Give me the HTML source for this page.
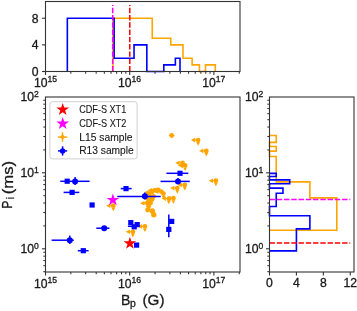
<!DOCTYPE html><html><head><meta charset="utf-8"><style>
html,body{margin:0;padding:0;background:#fff;}
svg{display:block;font-family:'Liberation Sans',sans-serif;will-change:transform;filter:blur(0.3px);} text{stroke:#1a1a1a;stroke-width:0.3px;}
</style></head><body>
<svg width="357" height="311" viewBox="0 0 357 311">
<rect width="357" height="311" fill="#fff"/>
<path d="M112.98,71.50 L112.98,18.22 L152.26,18.22 L152.26,38.20 L170.75,38.20 L170.75,44.86 L182.98,44.86 L182.98,58.18 L192.12,58.18 L192.12,64.84 L199.44,64.84 L199.44,71.50 L205.52,71.50 L205.52,64.84 L210.74,64.84 L210.74,64.84 L215.31,64.84 L215.31,71.50" fill="none" stroke="#ffa500" stroke-width="1.6" stroke-linejoin="miter"/>
<path d="M67.34,71.50 L67.34,18.22 L114.15,18.22 L114.15,58.18 L134.03,58.18 L134.03,44.86 L146.83,44.86 L146.83,71.50 L156.30,71.50 L156.30,71.50 L163.81,71.50 L163.81,64.84 L170.04,64.84 L170.04,64.84 L175.36,64.84 L175.36,58.18 L180.00,58.18 L180.00,71.50" fill="none" stroke="#0000ff" stroke-width="1.6" stroke-linejoin="miter"/>
<line x1="112.7" y1="71.3" x2="112.7" y2="4.90" stroke="#ff00ff" stroke-width="1.5" stroke-dasharray="5.4,1.86"/>
<line x1="129.8" y1="71.3" x2="129.8" y2="4.90" stroke="#ff0000" stroke-width="1.5" stroke-dasharray="5.4,1.86"/>
<rect x="45.5" y="1.5" width="194.5" height="70.0" fill="none" stroke="#333333" stroke-width="1.1"/>
<line x1="45.50" y1="71.5" x2="45.50" y2="75.0" stroke="#333333" stroke-width="1.1"/><line x1="70.85" y1="71.5" x2="70.85" y2="73.7" stroke="#333333" stroke-width="1.05"/><line x1="85.67" y1="71.5" x2="85.67" y2="73.7" stroke="#333333" stroke-width="1.05"/><line x1="96.19" y1="71.5" x2="96.19" y2="73.7" stroke="#333333" stroke-width="1.05"/><line x1="104.35" y1="71.5" x2="104.35" y2="73.7" stroke="#333333" stroke-width="1.05"/><line x1="111.02" y1="71.5" x2="111.02" y2="73.7" stroke="#333333" stroke-width="1.05"/><line x1="116.66" y1="71.5" x2="116.66" y2="73.7" stroke="#333333" stroke-width="1.05"/><line x1="121.54" y1="71.5" x2="121.54" y2="73.7" stroke="#333333" stroke-width="1.05"/><line x1="125.85" y1="71.5" x2="125.85" y2="73.7" stroke="#333333" stroke-width="1.05"/><line x1="129.70" y1="71.5" x2="129.70" y2="75.0" stroke="#333333" stroke-width="1.1"/><line x1="155.05" y1="71.5" x2="155.05" y2="73.7" stroke="#333333" stroke-width="1.05"/><line x1="169.87" y1="71.5" x2="169.87" y2="73.7" stroke="#333333" stroke-width="1.05"/><line x1="180.39" y1="71.5" x2="180.39" y2="73.7" stroke="#333333" stroke-width="1.05"/><line x1="188.55" y1="71.5" x2="188.55" y2="73.7" stroke="#333333" stroke-width="1.05"/><line x1="195.22" y1="71.5" x2="195.22" y2="73.7" stroke="#333333" stroke-width="1.05"/><line x1="200.86" y1="71.5" x2="200.86" y2="73.7" stroke="#333333" stroke-width="1.05"/><line x1="205.74" y1="71.5" x2="205.74" y2="73.7" stroke="#333333" stroke-width="1.05"/><line x1="210.05" y1="71.5" x2="210.05" y2="73.7" stroke="#333333" stroke-width="1.05"/><line x1="213.90" y1="71.5" x2="213.90" y2="75.0" stroke="#333333" stroke-width="1.1"/><line x1="239.25" y1="71.5" x2="239.25" y2="73.7" stroke="#333333" stroke-width="1.05"/>
<line x1="42.0" y1="71.50" x2="45.5" y2="71.50" stroke="#333333" stroke-width="1.1"/>
<text x="38.6" y="75.80" font-size="12.2" text-anchor="end" fill="#1a1a1a" >0</text>
<line x1="42.0" y1="44.86" x2="45.5" y2="44.86" stroke="#333333" stroke-width="1.1"/>
<text x="38.6" y="49.16" font-size="12.2" text-anchor="end" fill="#1a1a1a" >4</text>
<line x1="42.0" y1="18.22" x2="45.5" y2="18.22" stroke="#333333" stroke-width="1.1"/>
<text x="38.6" y="22.52" font-size="12.2" text-anchor="end" fill="#1a1a1a" >8</text>
<text x="33.90" y="86.6" font-size="12.2" text-anchor="start" fill="#1a1a1a" >10</text>
<text x="47.40" y="82.0" font-size="8.6" text-anchor="start" fill="#1a1a1a" >15</text>
<text x="118.10" y="86.6" font-size="12.2" text-anchor="start" fill="#1a1a1a" >10</text>
<text x="131.60" y="82.0" font-size="8.6" text-anchor="start" fill="#1a1a1a" >16</text>
<text x="202.30" y="86.6" font-size="12.2" text-anchor="start" fill="#1a1a1a" >10</text>
<text x="215.80" y="82.0" font-size="8.6" text-anchor="start" fill="#1a1a1a" >17</text>
<path d="M269.50,230.31 L336.80,230.31 L336.80,197.92 L309.88,197.92 L309.88,181.90 L276.23,181.90 L276.23,171.16 L276.23,171.16 L276.23,163.06 L276.23,163.06 L276.23,156.57 L269.50,156.57 L269.50,151.15 L276.23,151.15 L276.23,146.49 L269.50,146.49 L269.50,142.41 L276.23,142.41 L276.23,138.78 L276.23,138.78 L276.23,135.51 L269.50,135.51" fill="none" stroke="#ffa500" stroke-width="1.6"/>
<path d="M269.50,250.84 L296.42,250.84 L296.42,228.85 L309.88,228.85 L309.88,215.77 L269.50,215.77 L269.50,206.43 L276.23,206.43 L276.23,199.16 L276.23,199.16 L276.23,193.20 L282.96,193.20 L282.96,188.16 L269.50,188.16 L269.50,183.78 L289.69,183.78 L289.69,179.92 L269.50,179.92 L269.50,176.46 L276.23,176.46 L276.23,173.33 L269.50,173.33" fill="none" stroke="#0000ff" stroke-width="1.6"/>
<line x1="269.5" y1="199.6" x2="350.26" y2="199.6" stroke="#ff00ff" stroke-width="1.5" stroke-dasharray="5.4,1.86"/>
<line x1="269.5" y1="243.0" x2="350.26" y2="243.0" stroke="#ff0000" stroke-width="1.5" stroke-dasharray="5.4,1.86"/>
<rect x="269.5" y="97" width="84.5" height="175" fill="none" stroke="#333333" stroke-width="1.1"/>
<line x1="267.3" y1="271.68" x2="269.5" y2="271.68" stroke="#333333" stroke-width="1.05"/><line x1="267.3" y1="265.66" x2="269.5" y2="265.66" stroke="#333333" stroke-width="1.05"/><line x1="267.3" y1="260.57" x2="269.5" y2="260.57" stroke="#333333" stroke-width="1.05"/><line x1="267.3" y1="256.17" x2="269.5" y2="256.17" stroke="#333333" stroke-width="1.05"/><line x1="267.3" y1="252.28" x2="269.5" y2="252.28" stroke="#333333" stroke-width="1.05"/><line x1="266.0" y1="248.80" x2="269.5" y2="248.80" stroke="#333333" stroke-width="1.1"/><line x1="267.3" y1="225.92" x2="269.5" y2="225.92" stroke="#333333" stroke-width="1.05"/><line x1="267.3" y1="212.54" x2="269.5" y2="212.54" stroke="#333333" stroke-width="1.05"/><line x1="267.3" y1="203.04" x2="269.5" y2="203.04" stroke="#333333" stroke-width="1.05"/><line x1="267.3" y1="195.68" x2="269.5" y2="195.68" stroke="#333333" stroke-width="1.05"/><line x1="267.3" y1="189.66" x2="269.5" y2="189.66" stroke="#333333" stroke-width="1.05"/><line x1="267.3" y1="184.57" x2="269.5" y2="184.57" stroke="#333333" stroke-width="1.05"/><line x1="267.3" y1="180.17" x2="269.5" y2="180.17" stroke="#333333" stroke-width="1.05"/><line x1="267.3" y1="176.28" x2="269.5" y2="176.28" stroke="#333333" stroke-width="1.05"/><line x1="266.0" y1="172.80" x2="269.5" y2="172.80" stroke="#333333" stroke-width="1.1"/><line x1="267.3" y1="149.92" x2="269.5" y2="149.92" stroke="#333333" stroke-width="1.05"/><line x1="267.3" y1="136.54" x2="269.5" y2="136.54" stroke="#333333" stroke-width="1.05"/><line x1="267.3" y1="127.04" x2="269.5" y2="127.04" stroke="#333333" stroke-width="1.05"/><line x1="267.3" y1="119.68" x2="269.5" y2="119.68" stroke="#333333" stroke-width="1.05"/><line x1="267.3" y1="113.66" x2="269.5" y2="113.66" stroke="#333333" stroke-width="1.05"/><line x1="267.3" y1="108.57" x2="269.5" y2="108.57" stroke="#333333" stroke-width="1.05"/><line x1="267.3" y1="104.17" x2="269.5" y2="104.17" stroke="#333333" stroke-width="1.05"/><line x1="267.3" y1="100.28" x2="269.5" y2="100.28" stroke="#333333" stroke-width="1.05"/>
<line x1="269.50" y1="272" x2="269.50" y2="275.5" stroke="#333333" stroke-width="1.1"/>
<text x="269.50" y="287.4" font-size="12.2" text-anchor="middle" fill="#1a1a1a" >0</text>
<line x1="296.42" y1="272" x2="296.42" y2="275.5" stroke="#333333" stroke-width="1.1"/>
<text x="296.42" y="287.4" font-size="12.2" text-anchor="middle" fill="#1a1a1a" >4</text>
<line x1="323.34" y1="272" x2="323.34" y2="275.5" stroke="#333333" stroke-width="1.1"/>
<text x="323.34" y="287.4" font-size="12.2" text-anchor="middle" fill="#1a1a1a" >8</text>
<line x1="350.26" y1="272" x2="350.26" y2="275.5" stroke="#333333" stroke-width="1.1"/>
<text x="350.26" y="287.4" font-size="12.2" text-anchor="middle" fill="#1a1a1a" >12</text>
<text x="245.10" y="101.10000000000001" font-size="12.2" text-anchor="start" fill="#1a1a1a" >10</text>
<text x="258.60" y="96.50000000000001" font-size="8.6" text-anchor="start" fill="#1a1a1a" >2</text>
<text x="245.10" y="177.10000000000002" font-size="12.2" text-anchor="start" fill="#1a1a1a" >10</text>
<text x="258.60" y="172.5" font-size="8.6" text-anchor="start" fill="#1a1a1a" >1</text>
<text x="245.10" y="253.10000000000002" font-size="12.2" text-anchor="start" fill="#1a1a1a" >10</text>
<text x="258.60" y="248.5" font-size="8.6" text-anchor="start" fill="#1a1a1a" >0</text>
<rect x="45.5" y="97" width="194.5" height="175" fill="none" stroke="#333333" stroke-width="1.1"/>
<line x1="45.50" y1="272" x2="45.50" y2="275.5" stroke="#333333" stroke-width="1.1"/><line x1="70.85" y1="272" x2="70.85" y2="274.2" stroke="#333333" stroke-width="1.05"/><line x1="85.67" y1="272" x2="85.67" y2="274.2" stroke="#333333" stroke-width="1.05"/><line x1="96.19" y1="272" x2="96.19" y2="274.2" stroke="#333333" stroke-width="1.05"/><line x1="104.35" y1="272" x2="104.35" y2="274.2" stroke="#333333" stroke-width="1.05"/><line x1="111.02" y1="272" x2="111.02" y2="274.2" stroke="#333333" stroke-width="1.05"/><line x1="116.66" y1="272" x2="116.66" y2="274.2" stroke="#333333" stroke-width="1.05"/><line x1="121.54" y1="272" x2="121.54" y2="274.2" stroke="#333333" stroke-width="1.05"/><line x1="125.85" y1="272" x2="125.85" y2="274.2" stroke="#333333" stroke-width="1.05"/><line x1="129.70" y1="272" x2="129.70" y2="275.5" stroke="#333333" stroke-width="1.1"/><line x1="155.05" y1="272" x2="155.05" y2="274.2" stroke="#333333" stroke-width="1.05"/><line x1="169.87" y1="272" x2="169.87" y2="274.2" stroke="#333333" stroke-width="1.05"/><line x1="180.39" y1="272" x2="180.39" y2="274.2" stroke="#333333" stroke-width="1.05"/><line x1="188.55" y1="272" x2="188.55" y2="274.2" stroke="#333333" stroke-width="1.05"/><line x1="195.22" y1="272" x2="195.22" y2="274.2" stroke="#333333" stroke-width="1.05"/><line x1="200.86" y1="272" x2="200.86" y2="274.2" stroke="#333333" stroke-width="1.05"/><line x1="205.74" y1="272" x2="205.74" y2="274.2" stroke="#333333" stroke-width="1.05"/><line x1="210.05" y1="272" x2="210.05" y2="274.2" stroke="#333333" stroke-width="1.05"/><line x1="213.90" y1="272" x2="213.90" y2="275.5" stroke="#333333" stroke-width="1.1"/><line x1="239.25" y1="272" x2="239.25" y2="274.2" stroke="#333333" stroke-width="1.05"/>
<line x1="43.3" y1="271.68" x2="45.5" y2="271.68" stroke="#333333" stroke-width="1.05"/><line x1="43.3" y1="265.66" x2="45.5" y2="265.66" stroke="#333333" stroke-width="1.05"/><line x1="43.3" y1="260.57" x2="45.5" y2="260.57" stroke="#333333" stroke-width="1.05"/><line x1="43.3" y1="256.17" x2="45.5" y2="256.17" stroke="#333333" stroke-width="1.05"/><line x1="43.3" y1="252.28" x2="45.5" y2="252.28" stroke="#333333" stroke-width="1.05"/><line x1="42.0" y1="248.80" x2="45.5" y2="248.80" stroke="#333333" stroke-width="1.1"/><line x1="43.3" y1="225.92" x2="45.5" y2="225.92" stroke="#333333" stroke-width="1.05"/><line x1="43.3" y1="212.54" x2="45.5" y2="212.54" stroke="#333333" stroke-width="1.05"/><line x1="43.3" y1="203.04" x2="45.5" y2="203.04" stroke="#333333" stroke-width="1.05"/><line x1="43.3" y1="195.68" x2="45.5" y2="195.68" stroke="#333333" stroke-width="1.05"/><line x1="43.3" y1="189.66" x2="45.5" y2="189.66" stroke="#333333" stroke-width="1.05"/><line x1="43.3" y1="184.57" x2="45.5" y2="184.57" stroke="#333333" stroke-width="1.05"/><line x1="43.3" y1="180.17" x2="45.5" y2="180.17" stroke="#333333" stroke-width="1.05"/><line x1="43.3" y1="176.28" x2="45.5" y2="176.28" stroke="#333333" stroke-width="1.05"/><line x1="42.0" y1="172.80" x2="45.5" y2="172.80" stroke="#333333" stroke-width="1.1"/><line x1="43.3" y1="149.92" x2="45.5" y2="149.92" stroke="#333333" stroke-width="1.05"/><line x1="43.3" y1="136.54" x2="45.5" y2="136.54" stroke="#333333" stroke-width="1.05"/><line x1="43.3" y1="127.04" x2="45.5" y2="127.04" stroke="#333333" stroke-width="1.05"/><line x1="43.3" y1="119.68" x2="45.5" y2="119.68" stroke="#333333" stroke-width="1.05"/><line x1="43.3" y1="113.66" x2="45.5" y2="113.66" stroke="#333333" stroke-width="1.05"/><line x1="43.3" y1="108.57" x2="45.5" y2="108.57" stroke="#333333" stroke-width="1.05"/><line x1="43.3" y1="104.17" x2="45.5" y2="104.17" stroke="#333333" stroke-width="1.05"/><line x1="43.3" y1="100.28" x2="45.5" y2="100.28" stroke="#333333" stroke-width="1.05"/>
<text x="33.90" y="287.6" font-size="12.2" text-anchor="start" fill="#1a1a1a" >10</text>
<text x="47.40" y="283.0" font-size="8.6" text-anchor="start" fill="#1a1a1a" >15</text>
<text x="118.10" y="287.6" font-size="12.2" text-anchor="start" fill="#1a1a1a" >10</text>
<text x="131.60" y="283.0" font-size="8.6" text-anchor="start" fill="#1a1a1a" >16</text>
<text x="202.30" y="287.6" font-size="12.2" text-anchor="start" fill="#1a1a1a" >10</text>
<text x="215.80" y="283.0" font-size="8.6" text-anchor="start" fill="#1a1a1a" >17</text>
<text x="20.50" y="101.10000000000001" font-size="12.2" text-anchor="start" fill="#1a1a1a" >10</text>
<text x="34.00" y="96.50000000000001" font-size="8.6" text-anchor="start" fill="#1a1a1a" >2</text>
<text x="20.50" y="177.10000000000002" font-size="12.2" text-anchor="start" fill="#1a1a1a" >10</text>
<text x="34.00" y="172.5" font-size="8.6" text-anchor="start" fill="#1a1a1a" >1</text>
<text x="20.50" y="253.10000000000002" font-size="12.2" text-anchor="start" fill="#1a1a1a" >10</text>
<text x="34.00" y="248.5" font-size="8.6" text-anchor="start" fill="#1a1a1a" >0</text>
<circle cx="171.7" cy="135.5" r="2.4" fill="#ffa500"/>
<line x1="169" y1="135.5" x2="174.5" y2="135.5" stroke="#ffa500" stroke-width="1.2"/>
<circle cx="198.1" cy="140.1" r="2.4" fill="#ffa500"/><path d="M190.90,140.10 L195.20,137.80 L195.20,142.40 Z" fill="#ffa500"/><line x1="194.60" y1="140.1" x2="198.1" y2="140.1" stroke="#ffa500" stroke-width="1.0"/><path d="M198.10,145.70 L196.20,142.10 L200.00,142.10 Z" fill="#ffa500"/>
<circle cx="206.3" cy="150.9" r="2.4" fill="#ffa500"/><path d="M199.10,150.90 L203.40,148.60 L203.40,153.20 Z" fill="#ffa500"/><line x1="202.80" y1="150.9" x2="206.3" y2="150.9" stroke="#ffa500" stroke-width="1.0"/><path d="M206.30,156.50 L204.40,152.90 L208.20,152.90 Z" fill="#ffa500"/>
<circle cx="182.5" cy="162.9" r="2.4" fill="#ffa500"/><path d="M175.30,162.90 L179.60,160.60 L179.60,165.20 Z" fill="#ffa500"/><line x1="179.00" y1="162.9" x2="182.5" y2="162.9" stroke="#ffa500" stroke-width="1.0"/><path d="M182.50,168.50 L180.60,164.90 L184.40,164.90 Z" fill="#ffa500"/>
<circle cx="185.1" cy="165.4" r="2.4" fill="#ffa500"/><path d="M177.90,165.40 L182.20,163.10 L182.20,167.70 Z" fill="#ffa500"/><line x1="181.60" y1="165.4" x2="185.1" y2="165.4" stroke="#ffa500" stroke-width="1.0"/><path d="M185.10,171.00 L183.20,167.40 L187.00,167.40 Z" fill="#ffa500"/>
<circle cx="215.9" cy="180.7" r="2.4" fill="#ffa500"/><path d="M208.70,180.70 L213.00,178.40 L213.00,183.00 Z" fill="#ffa500"/><line x1="212.40" y1="180.7" x2="215.9" y2="180.7" stroke="#ffa500" stroke-width="1.0"/><path d="M215.90,186.30 L214.00,182.70 L217.80,182.70 Z" fill="#ffa500"/>
<circle cx="177.3" cy="188.1" r="2.4" fill="#ffa500"/><path d="M170.10,188.10 L174.40,185.80 L174.40,190.40 Z" fill="#ffa500"/><line x1="173.80" y1="188.1" x2="177.3" y2="188.1" stroke="#ffa500" stroke-width="1.0"/><path d="M177.30,193.70 L175.40,190.10 L179.20,190.10 Z" fill="#ffa500"/>
<circle cx="184.8" cy="185.0" r="2.4" fill="#ffa500"/><path d="M177.60,185.00 L181.90,182.70 L181.90,187.30 Z" fill="#ffa500"/><line x1="181.30" y1="185.0" x2="184.8" y2="185.0" stroke="#ffa500" stroke-width="1.0"/><path d="M184.80,190.60 L182.90,187.00 L186.70,187.00 Z" fill="#ffa500"/>
<circle cx="161.3" cy="191.6" r="2.4" fill="#ffa500"/><path d="M154.10,191.60 L158.40,189.30 L158.40,193.90 Z" fill="#ffa500"/><line x1="157.80" y1="191.6" x2="161.3" y2="191.6" stroke="#ffa500" stroke-width="1.0"/>
<circle cx="158.3" cy="189.9" r="2.4" fill="#ffa500"/><path d="M151.10,189.90 L155.40,187.60 L155.40,192.20 Z" fill="#ffa500"/><line x1="154.80" y1="189.9" x2="158.3" y2="189.9" stroke="#ffa500" stroke-width="1.0"/>
<circle cx="155.0" cy="190.3" r="2.4" fill="#ffa500"/><path d="M147.80,190.30 L152.10,188.00 L152.10,192.60 Z" fill="#ffa500"/><line x1="151.50" y1="190.3" x2="155.0" y2="190.3" stroke="#ffa500" stroke-width="1.0"/>
<circle cx="151.6" cy="192.2" r="2.4" fill="#ffa500"/><path d="M144.40,192.20 L148.70,189.90 L148.70,194.50 Z" fill="#ffa500"/><line x1="148.10" y1="192.2" x2="151.6" y2="192.2" stroke="#ffa500" stroke-width="1.0"/>
<circle cx="148.4" cy="194.4" r="2.4" fill="#ffa500"/>
<circle cx="163.4" cy="193.6" r="2.4" fill="#ffa500"/><path d="M163.40,199.20 L161.50,195.60 L165.30,195.60 Z" fill="#ffa500"/>
<circle cx="148.6" cy="200.0" r="2.4" fill="#ffa500"/>
<circle cx="147.3" cy="203.2" r="2.4" fill="#ffa500"/><path d="M140.10,203.20 L144.40,200.90 L144.40,205.50 Z" fill="#ffa500"/><line x1="143.80" y1="203.2" x2="147.3" y2="203.2" stroke="#ffa500" stroke-width="1.0"/>
<circle cx="148.6" cy="206.3" r="2.4" fill="#ffa500"/><path d="M148.60,211.90 L146.70,208.30 L150.50,208.30 Z" fill="#ffa500"/>
<circle cx="147.6" cy="210.0" r="2.4" fill="#ffa500"/>
<circle cx="152.2" cy="199.3" r="2.4" fill="#ffa500"/><path d="M145.00,199.30 L149.30,197.00 L149.30,201.60 Z" fill="#ffa500"/><line x1="148.70" y1="199.3" x2="152.2" y2="199.3" stroke="#ffa500" stroke-width="1.0"/>
<circle cx="153.6" cy="196.3" r="2.4" fill="#ffa500"/><path d="M146.40,196.30 L150.70,194.00 L150.70,198.60 Z" fill="#ffa500"/><line x1="150.10" y1="196.3" x2="153.6" y2="196.3" stroke="#ffa500" stroke-width="1.0"/>
<circle cx="150.6" cy="203.0" r="2.4" fill="#ffa500"/><path d="M143.40,203.00 L147.70,200.70 L147.70,205.30 Z" fill="#ffa500"/><line x1="147.10" y1="203.0" x2="150.6" y2="203.0" stroke="#ffa500" stroke-width="1.0"/>
<circle cx="150.2" cy="197.0" r="2.4" fill="#ffa500"/><path d="M143.00,197.00 L147.30,194.70 L147.30,199.30 Z" fill="#ffa500"/><line x1="146.70" y1="197.0" x2="150.2" y2="197.0" stroke="#ffa500" stroke-width="1.0"/>
<circle cx="168.8" cy="198.6" r="2.4" fill="#ffa500"/><path d="M161.60,198.60 L165.90,196.30 L165.90,200.90 Z" fill="#ffa500"/><line x1="165.30" y1="198.6" x2="168.8" y2="198.6" stroke="#ffa500" stroke-width="1.0"/><path d="M168.80,204.20 L166.90,200.60 L170.70,200.60 Z" fill="#ffa500"/>
<circle cx="173.4" cy="198.2" r="2.4" fill="#ffa500"/><path d="M166.20,198.20 L170.50,195.90 L170.50,200.50 Z" fill="#ffa500"/><line x1="169.90" y1="198.2" x2="173.4" y2="198.2" stroke="#ffa500" stroke-width="1.0"/><path d="M173.40,203.80 L171.50,200.20 L175.30,200.20 Z" fill="#ffa500"/>
<circle cx="113.3" cy="205.7" r="2.4" fill="#ffa500"/><path d="M106.10,205.70 L110.40,203.40 L110.40,208.00 Z" fill="#ffa500"/><line x1="109.80" y1="205.7" x2="113.3" y2="205.7" stroke="#ffa500" stroke-width="1.0"/><path d="M113.30,211.30 L111.40,207.70 L115.20,207.70 Z" fill="#ffa500"/>
<circle cx="144.9" cy="226.4" r="2.4" fill="#ffa500"/><path d="M137.70,226.40 L142.00,224.10 L142.00,228.70 Z" fill="#ffa500"/><line x1="141.40" y1="226.4" x2="144.9" y2="226.4" stroke="#ffa500" stroke-width="1.0"/><path d="M144.90,232.00 L143.00,228.40 L146.80,228.40 Z" fill="#ffa500"/>
<circle cx="132.9" cy="231.8" r="2.4" fill="#ffa500"/><path d="M125.70,231.80 L130.00,229.50 L130.00,234.10 Z" fill="#ffa500"/><line x1="129.40" y1="231.8" x2="132.9" y2="231.8" stroke="#ffa500" stroke-width="1.0"/><path d="M132.90,237.40 L131.00,233.80 L134.80,233.80 Z" fill="#ffa500"/>
<circle cx="152.3" cy="211.0" r="2.7" fill="#ffa500"/>
<circle cx="153.8" cy="214.8" r="2.7" fill="#ffa500"/>
<line x1="60.3" y1="181.3" x2="89.6" y2="181.3" stroke="#0000ff" stroke-width="1.5"/>
<line x1="63.6" y1="192.4" x2="79.3" y2="192.4" stroke="#0000ff" stroke-width="1.5"/>
<line x1="51.6" y1="240.2" x2="73.8" y2="240.2" stroke="#0000ff" stroke-width="1.5"/>
<line x1="77.8" y1="250.7" x2="88.6" y2="250.7" stroke="#0000ff" stroke-width="1.5"/>
<line x1="96.3" y1="228.2" x2="109.5" y2="228.2" stroke="#0000ff" stroke-width="1.5"/>
<line x1="120.7" y1="188.6" x2="131.7" y2="188.6" stroke="#0000ff" stroke-width="1.5"/>
<line x1="117.3" y1="196.5" x2="160.7" y2="196.5" stroke="#0000ff" stroke-width="1.5"/>
<line x1="127.9" y1="226.3" x2="139.6" y2="226.3" stroke="#0000ff" stroke-width="1.5"/>
<line x1="166.4" y1="173.3" x2="188.3" y2="173.3" stroke="#0000ff" stroke-width="1.5"/>
<line x1="160.5" y1="181.4" x2="189.8" y2="181.4" stroke="#0000ff" stroke-width="1.5"/>
<line x1="75.1" y1="177" x2="75.1" y2="185" stroke="#0000ff" stroke-width="1.5"/>
<line x1="69.8" y1="235.6" x2="69.8" y2="244" stroke="#0000ff" stroke-width="1.5"/>
<line x1="144.8" y1="192.5" x2="144.8" y2="199.5" stroke="#0000ff" stroke-width="1.5"/>
<line x1="168.8" y1="214.6" x2="168.8" y2="237.2" stroke="#0000ff" stroke-width="1.5"/>
<line x1="178" y1="178" x2="178" y2="184" stroke="#0000ff" stroke-width="1.5"/>
<rect x="64.60" y="178.60" width="5.2" height="5.2" fill="#0000ff"/>
<rect x="69.50" y="189.80" width="5.2" height="5.2" fill="#0000ff"/>
<rect x="89.50" y="202.40" width="5.2" height="5.2" fill="#0000ff"/>
<rect x="80.70" y="248.10" width="5.2" height="5.2" fill="#0000ff"/>
<rect x="123.40" y="186.00" width="5.2" height="5.2" fill="#0000ff"/>
<rect x="128.20" y="220.00" width="5.2" height="5.2" fill="#0000ff"/>
<rect x="131.60" y="224.20" width="5.2" height="5.2" fill="#0000ff"/>
<rect x="134.60" y="222.00" width="5.2" height="5.2" fill="#0000ff"/>
<rect x="134.00" y="242.50" width="5.2" height="5.2" fill="#0000ff"/>
<rect x="177.40" y="170.70" width="5.2" height="5.2" fill="#0000ff"/>
<rect x="169.10" y="218.80" width="5.2" height="5.2" fill="#0000ff"/>
<rect x="166.20" y="226.80" width="5.2" height="5.2" fill="#0000ff"/>
<circle cx="75.1" cy="181.5" r="3.0" fill="#0000ff"/>
<circle cx="69.8" cy="240.2" r="3.0" fill="#0000ff"/>
<circle cx="104.2" cy="228.2" r="3.0" fill="#0000ff"/>
<circle cx="144.9" cy="196.3" r="3.0" fill="#0000ff"/>
<circle cx="178" cy="181.4" r="3.0" fill="#0000ff"/>
<polygon points="112.90,193.40 114.38,197.96 119.18,197.96 115.30,200.78 116.78,205.34 112.90,202.52 109.02,205.34 110.50,200.78 106.62,197.96 111.42,197.96" fill="#ff00ff"/>
<polygon points="129.90,236.80 131.38,241.36 136.18,241.36 132.30,244.18 133.78,248.74 129.90,245.92 126.02,248.74 127.50,244.18 123.62,241.36 128.42,241.36" fill="#ff0000"/>
<rect x="49.9" y="101.7" width="87.2" height="57.2" rx="2.5" fill="#fff" fill-opacity="0.8" stroke="#d0d0d0" stroke-width="1"/>
<polygon points="62.70,102.90 64.20,107.53 69.07,107.53 65.13,110.39 66.64,115.02 62.70,112.16 58.76,115.02 60.27,110.39 56.33,107.53 61.20,107.53" fill="#ff0000"/>
<polygon points="62.70,116.90 64.20,121.53 69.07,121.53 65.13,124.39 66.64,129.02 62.70,126.16 58.76,129.02 60.27,124.39 56.33,121.53 61.20,121.53" fill="#ff00ff"/>
<line x1="58" y1="137.1" x2="67.2" y2="137.1" stroke="#ffa500" stroke-width="1.5"/><line x1="62.5" y1="132.3" x2="62.5" y2="141.7" stroke="#ffa500" stroke-width="1.5"/><circle cx="62.5" cy="137.1" r="2" fill="#ffa500"/>
<line x1="58" y1="150.9" x2="67.2" y2="150.9" stroke="#0000ff" stroke-width="1.5"/><line x1="62.6" y1="146.3" x2="62.6" y2="155.6" stroke="#0000ff" stroke-width="1.5"/><circle cx="62.6" cy="150.9" r="2.7" fill="#0000ff"/>
<text x="79.2" y="112.9" font-size="10.2" fill="#1a1a1a" style="stroke-width:0.12px" textLength="47.0" lengthAdjust="spacingAndGlyphs">CDF-S XT1</text>
<text x="79.2" y="126.8" font-size="10.2" fill="#1a1a1a" style="stroke-width:0.12px" textLength="47.2" lengthAdjust="spacingAndGlyphs">CDF-S XT2</text>
<text x="79.2" y="140.8" font-size="10.2" fill="#1a1a1a" style="stroke-width:0.12px" textLength="53.3" lengthAdjust="spacingAndGlyphs">L15 sample</text>
<text x="79.2" y="154.4" font-size="10.2" fill="#1a1a1a" style="stroke-width:0.12px" textLength="54.6" lengthAdjust="spacingAndGlyphs">R13 sample</text>
<text x="121.0" y="305.0" font-size="15.3" fill="#1a1a1a" textLength="9.4" lengthAdjust="spacingAndGlyphs">B</text>
<text x="130.1" y="307.3" font-size="10.4" fill="#1a1a1a">p</text>
<text x="142.5" y="304.9" font-size="15.3" fill="#1a1a1a" textLength="22.0" lengthAdjust="spacingAndGlyphs">(G)</text>
<g transform="translate(12.4,208.8) rotate(-90)"><text x="0" y="0" font-size="15.3" fill="#1a1a1a" textLength="8.2" lengthAdjust="spacingAndGlyphs">P</text><text x="9.6" y="2.0" font-size="10.4" fill="#1a1a1a">i</text><text x="14.5" y="0.2" font-size="15.3" fill="#1a1a1a" textLength="33.4" lengthAdjust="spacingAndGlyphs">(ms)</text></g>
</svg></body></html>
